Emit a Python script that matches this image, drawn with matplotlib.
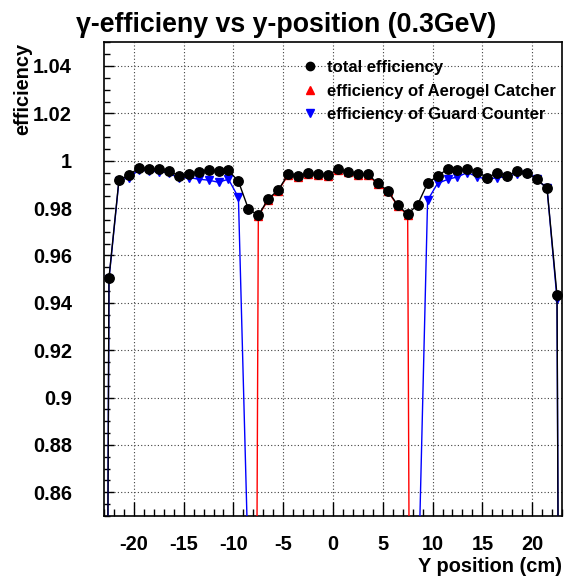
import numpy as np
import matplotlib
matplotlib.use('Agg')
import matplotlib.pyplot as plt
from matplotlib.lines import Line2D
from matplotlib.ticker import MultipleLocator, FuncFormatter

plt.rcParams['font.family'] = ['Liberation Sans', 'DejaVu Sans']
plt.rcParams['font.weight'] = 'bold'

# y position (cm), bin centres
ypos = [-23.5, -22.5, -21.5, -20.5, -19.5, -18.5, -17.5, -16.5, -15.5, -14.5,
        -13.5, -12.5, -11.5, -10.5, -9.5, -8.5, -7.5, -6.5, -5.5, -4.5,
        -3.5, -2.5, -1.5, -0.5, 0.5, 1.5, 2.5, 3.5, 4.5, 5.5,
        6.5, 7.5, 8.5, 9.5, 10.5, 11.5, 12.5, 13.5, 14.5, 15.5,
        16.5, 17.5, 18.5, 19.5, 20.5, 21.5, 22.5, 23.5]

eff_total = [0.0, 0.9505, 0.9918, 0.9939, 0.9970, 0.9967, 0.9964, 0.9957, 0.9937, 0.9943,
             0.9953, 0.9961, 0.9957, 0.9959, 0.9913, 0.9797, 0.9769, 0.9839, 0.9876, 0.9943,
             0.9936, 0.9947, 0.9944, 0.9940, 0.9964, 0.9954, 0.9942, 0.9943, 0.9904, 0.9874,
             0.9812, 0.9774, 0.9815, 0.9905, 0.9936, 0.9964, 0.9960, 0.9964, 0.9953, 0.9929,
             0.9949, 0.9935, 0.9957, 0.9950, 0.9921, 0.9883, 0.9432, 0.0]

eff_aerogel = [0.0, 0.0, 0.0, 0.0, 0.0, 0.0, 0.0, 0.0, 0.0, 0.0,
               0.0, 0.0, 0.0, 0.0, 0.0, 0.0, 0.9766, 0.9836, 0.9873, 0.9940,
               0.9933, 0.9944, 0.9941, 0.9937, 0.9961, 0.9951, 0.9939, 0.9940, 0.9901, 0.9871,
               0.9809, 0.9771, 0.0, 0.0, 0.0, 0.0, 0.0, 0.0, 0.0, 0.0,
               0.0, 0.0, 0.0, 0.0, 0.0, 0.0, 0.0, 0.0]

eff_guard = [0.0, 0.9500, 0.9915, 0.9929, 0.9960, 0.9957, 0.9953, 0.9950, 0.9925, 0.9929,
             0.9922, 0.9918, 0.9909, 0.9922, 0.9845, 0.827, 0.0, 0.0, 0.0, 0.0,
             0.0, 0.0, 0.0, 0.0, 0.0, 0.0, 0.0, 0.0, 0.0, 0.0,
             0.0, 0.0, 0.81, 0.9833, 0.9904, 0.9921, 0.9932, 0.9950, 0.9932, 0.9921,
             0.9929, 0.9932, 0.9946, 0.9946, 0.9921, 0.9883, 0.9415, 0.0]

fig = plt.figure(figsize=(5.68, 5.77), dpi=100)
ax = fig.add_axes([104 / 568, 1 - 516 / 577, 458 / 568, (516 - 42.3) / 577])

ax.plot(ypos, eff_aerogel, color='#ff0000', lw=1.0, marker='^', ms=6, zorder=3)
ax.plot(ypos, eff_guard, color='#0000ff', lw=1.0, marker='v', ms=6, zorder=4)
ax.plot(ypos, eff_total, color='black', lw=1.0, marker='o', ms=6.8, zorder=5)

ax.set_xlim(-23, 23)
ax.set_ylim(0.85, 1.05)

ax.xaxis.set_major_locator(MultipleLocator(5))
ax.xaxis.set_minor_locator(MultipleLocator(1))
ax.yaxis.set_major_locator(MultipleLocator(0.02))
ax.yaxis.set_minor_locator(MultipleLocator(0.005))
ax.yaxis.set_major_formatter(FuncFormatter(lambda v, p: '%g' % round(v, 4)))
ax.xaxis.set_major_formatter(FuncFormatter(lambda v, p: '%g' % v))

ax.tick_params(axis='x', which='major', direction='in', length=10, width=1, labelsize=14.4, pad=14)
ax.tick_params(axis='x', which='minor', direction='in', length=5, width=1)
ax.tick_params(axis='y', which='major', direction='in', length=7, width=1, labelsize=14.4, pad=23)
ax.tick_params(axis='y', which='minor', direction='in', length=4, width=1)
for s in ax.spines.values():
    s.set_linewidth(1.2)

ax.grid(True, which='major', color='0.25', linestyle=(0, (1, 2)), linewidth=0.8)
ax.set_axisbelow(True)

handles = [Line2D([], [], ls='none', marker='o', color='black', ms=6),
           Line2D([], [], ls='none', marker='^', color='#ff0000', ms=6),
           Line2D([], [], ls='none', marker='v', color='#0000ff', ms=6)]
labels = ['total efficiency', 'efficiency of Aerogel Catcher', 'efficiency of Guard Counter']
ax.legend(handles, labels, loc='upper left', bbox_to_anchor=(302 / 568, 1 - 60 / 577),
          bbox_transform=fig.transFigure, frameon=False, fontsize=12,
          handlelength=1.0, handletextpad=0.5, borderpad=0, borderaxespad=0,
          labelspacing=0.52)

fig.text(286 / 568, 1 - 31.7 / 577, 'γ-efficieny vs y-position (0.3GeV)',
         ha='center', va='baseline', fontsize=19.3, fontweight='bold')
fig.text(562 / 568, 1 - 571.5 / 577, 'Y position (cm)', ha='right', va='baseline',
         fontsize=14.4, fontweight='bold')
fig.text(22.5 / 568, 1 - 43 / 577, 'efficiency', rotation=90, ha='center', va='top',
         fontsize=14.4, fontweight='bold')

fig.savefig('out.png', dpi=100)
